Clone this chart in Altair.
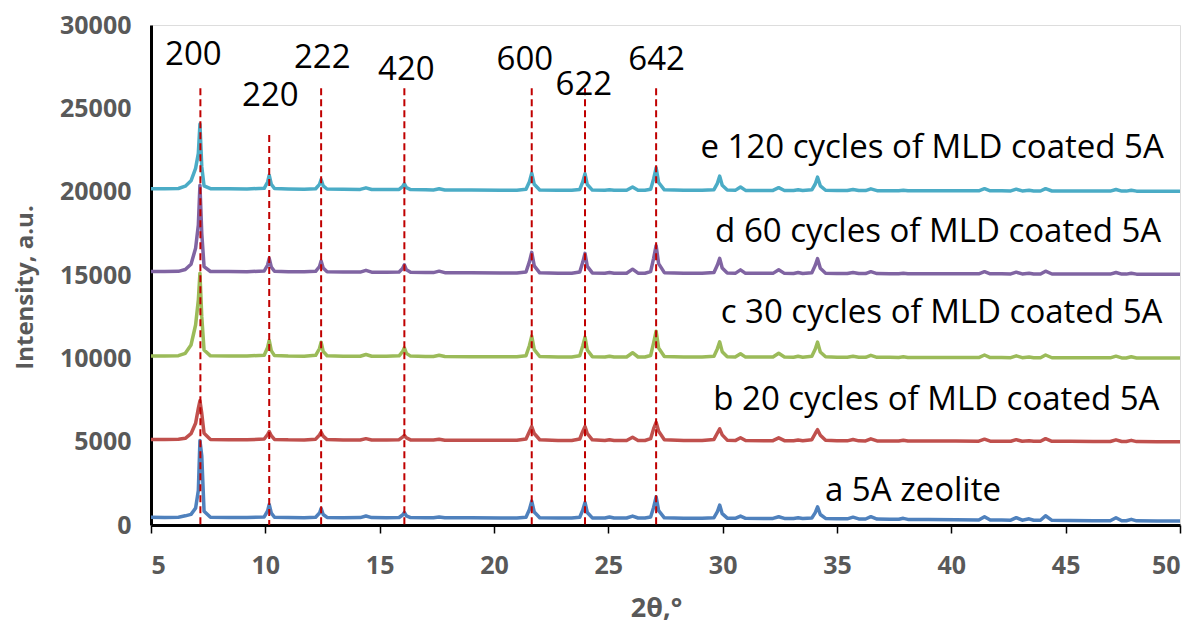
import altair as alt
import pandas as pd

# 2-theta grid (degrees)
two_theta = [
    5.0, 5.6, 6.2, 6.5, 6.75, 6.95, 7.07, 7.14, 7.22, 7.32, 7.6, 8.4, 9.2,
    9.95, 10.1, 10.17, 10.26, 10.4, 11.0, 11.7,
    12.2, 12.37, 12.44, 12.53, 12.7, 13.4,
    14.15, 14.4, 14.65, 15.3,
    15.85, 16.0, 16.08, 16.17, 16.35, 17.0,
    17.35, 17.6, 17.85, 19.0, 20.3, 21.0,
    21.4, 21.55, 21.65, 21.76, 22.0, 22.8, 23.4,
    23.75, 23.88, 23.98, 24.08, 24.3,
    24.85, 25.05, 25.25, 25.8, 26.06, 26.3, 26.6,
    26.85, 26.98, 27.09, 27.2, 27.45, 28.3, 29.1,
    29.62, 29.77, 29.87, 29.98, 30.2, 30.55, 30.78, 31.0, 31.8,
    32.2, 32.45, 32.7, 33.1, 33.3, 33.5,
    33.9, 34.05, 34.15, 34.27, 34.5, 35.0,
    35.45, 35.7, 35.95, 36.25, 36.48, 36.75, 37.3,
    37.7, 37.9, 38.1, 39.0, 40.2,
    41.2, 41.45, 41.7, 42.2, 42.6, 42.84, 43.1, 43.4, 43.6,
    43.9, 44.12, 44.4, 45.2, 46.2,
    46.95, 47.2, 47.45, 47.65, 47.87, 48.1, 49.0, 50.0,
]

series_a = [
    460, 455, 470, 550, 640, 1010, 2070, 5070, 4150, 830, 460, 450, 445,
    485, 840, 1233, 720, 460, 445, 440,
    465, 720, 994, 630, 455, 440,
    445, 540, 445, 440,
    450, 600, 755, 550, 445, 440,
    440, 480, 440, 430, 425, 425,
    470, 930, 1431, 780, 440, 420, 420,
    465, 890, 1354, 750, 425,
    420, 480, 420, 420, 537, 420, 415,
    480, 1050, 1688, 860, 430, 410, 405,
    440, 800, 1193, 680, 410, 400, 537, 400, 395,
    395, 497, 395, 390, 430, 390,
    420, 740, 1090, 630, 395, 380,
    370, 470, 365, 360, 500, 355, 345,
    340, 400, 335, 330, 315,
    300, 497, 300, 295, 290, 440, 290, 370, 285,
    285, 555, 280, 270, 260,
    255, 440, 255, 255, 340, 250, 240, 235,
]

series_b = [
    5130, 5125, 5140, 5200, 5480, 6100, 7000, 7455, 6700, 5500, 5130, 5115, 5110,
    5160, 5430, 5606, 5360, 5135, 5110, 5105,
    5150, 5400, 5565, 5330, 5125, 5100,
    5100, 5180, 5100, 5095,
    5120, 5270, 5368, 5230, 5105, 5095,
    5095, 5140, 5090, 5085, 5080, 5080,
    5160, 5615, 5905, 5490, 5115, 5075, 5075,
    5160, 5615, 5905, 5490, 5110,
    5075, 5120, 5075, 5075, 5268, 5075, 5070,
    5180, 5780, 6161, 5620, 5120, 5070, 5065,
    5135, 5520, 5767, 5410, 5090, 5065, 5231, 5065, 5060,
    5060, 5231, 5060, 5060, 5100, 5055,
    5120, 5490, 5720, 5390, 5080, 5050,
    5050, 5130, 5050, 5045, 5170, 5045, 5045,
    5040, 5080, 5040, 5040, 5035,
    5030, 5150, 5030, 5030, 5025, 5120, 5025, 5060, 5025,
    5025, 5180, 5020, 5020, 5015,
    5010, 5110, 5010, 5010, 5080, 5005, 5000, 5000,
]

series_c = [
    10140, 10140, 10160, 10300, 10800, 12000, 13500, 15109, 12500, 10500, 10150, 10140, 10135,
    10190, 10650, 11074, 10460, 10165, 10135, 10130,
    10180, 10590, 10970, 10420, 10155, 10125,
    10125, 10230, 10125, 10120,
    10150, 10400, 10636, 10300, 10135, 10115,
    10110, 10180, 10110, 10100, 10095, 10090,
    10160, 10770, 11332, 10520, 10110, 10085, 10085,
    10150, 10740, 11272, 10500, 10100,
    10080, 10130, 10080, 10080, 10336, 10080, 10080,
    10170, 10930, 11630, 10620, 10110, 10080, 10078,
    10130, 10580, 10990, 10400, 10100, 10075, 10276, 10075, 10075,
    10075, 10300, 10075, 10070, 10120, 10070,
    10120, 10560, 10970, 10380, 10095, 10065,
    10065, 10120, 10065, 10060, 10180, 10060, 10058,
    10055, 10090, 10055, 10052, 10050,
    10048, 10200, 10045, 10045, 10042, 10150, 10040, 10080, 10040,
    10038, 10200, 10035, 10032, 10030,
    10028, 10130, 10025, 10025, 10090, 10022, 10020, 10018,
]

series_d = [
    15215, 15210, 15220, 15330, 15650, 16600, 18000, 20380, 17500, 15500, 15210, 15205, 15200,
    15240, 15600, 16003, 15480, 15220, 15195, 15190,
    15220, 15510, 15845, 15420, 15200, 15180,
    15175, 15280, 15170, 15165,
    15180, 15390, 15607, 15310, 15165, 15150,
    15145, 15230, 15140, 15130, 15120, 15115,
    15180, 15800, 16360, 15550, 15130, 15110, 15110,
    15180, 15760, 16300, 15520, 15125,
    15110, 15150, 15110, 15108, 15350, 15108, 15105,
    15200, 16000, 16760, 15680, 15140, 15105, 15103,
    15150, 15600, 16000, 15420, 15120, 15100, 15310, 15100, 15100,
    15098, 15310, 15098, 15095, 15150, 15095,
    15140, 15580, 15980, 15400, 15110, 15090,
    15088, 15150, 15087, 15085, 15200, 15083, 15082,
    15080, 15110, 15078, 15076, 15074,
    15072, 15200, 15070, 15068, 15066, 15170, 15064, 15110, 15063,
    15062, 15230, 15060, 15058, 15056,
    15055, 15150, 15054, 15053, 15110, 15052, 15050, 15048,
]

series_e = [
    20180, 20175, 20190, 20330, 20650, 21400, 22300, 24055, 21500, 20350, 20180, 20170, 20165,
    20200, 20580, 20994, 20450, 20185, 20160, 20150,
    20175, 20440, 20735, 20350, 20160, 20140,
    20135, 20230, 20130, 20125,
    20135, 20300, 20476, 20240, 20125, 20110,
    20105, 20170, 20100, 20095, 20090, 20088,
    20140, 20600, 21115, 20440, 20100, 20085, 20085,
    20135, 20580, 21074, 20430, 20095,
    20084, 20110, 20084, 20083, 20280, 20083, 20082,
    20150, 20760, 21431, 20550, 20110, 20080, 20080,
    20120, 20500, 20934, 20380, 20095, 20078, 20280, 20076, 20075,
    20074, 20240, 20073, 20072, 20110, 20071,
    20110, 20460, 20870, 20350, 20085, 20068,
    20066, 20130, 20065, 20064, 20170, 20062, 20061,
    20060, 20090, 20058, 20056, 20054,
    20052, 20180, 20050, 20048, 20046, 20150, 20044, 20080, 20043,
    20042, 20180, 20040, 20038, 20036,
    20035, 20130, 20034, 20033, 20090, 20032, 20030, 20028,
]

series_names = [
    "e 120 cycles of MLD coated 5A",
    "d 60 cycles of MLD coated 5A",
    "c 30 cycles of MLD coated 5A",
    "b 20 cycles of MLD coated 5A",
    "a 5A zeolite",
]
series_values = [series_e, series_d, series_c, series_b, series_a]
series_colors = ["#4BACC6", "#8064A2", "#9BBB59", "#C0504D", "#4F81BD"]

# series annotation positions (right edge, data units)
ann_x = [49.29, 49.18, 49.23, 49.1, 42.17]
ann_y = [22635, 17565, 12722, 7515, 2028]

# reflection markers
hkl_labels = ["200", "220", "222", "420", "600", "622", "642"]
hkl_pos = [7.16, 10.17, 12.44, 16.08, 21.65, 23.98, 27.09]
hkl_line_top = [26200, 23400, 26200, 26200, 26200, 26200, 26200]
hkl_label_x = [6.85, 10.22, 12.49, 16.17, 21.35, 23.93, 27.11]
hkl_label_y = [28211, 25765, 28032, 27316, 27913, 26421, 27913]

x_ticks = [5, 10, 15, 20, 25, 30, 35, 40, 45, 50]
y_ticks = [0, 5000, 10000, 15000, 20000, 25000, 30000]

FONT = "Open Sans"
GRAY = "#595959"

x_scale = alt.Scale(domain=[5, 50], nice=False, zero=False)
y_scale = alt.Scale(domain=[0, 30000], nice=False)

x_axis = alt.Axis(
    values=x_ticks, title="2θ,°", grid=False, format="d",
    domainColor="black", domainWidth=3,
    tickColor="black", tickWidth=1.5, tickSize=8,
    labelFont=FONT, labelFontSize=25, labelFontWeight="bold", labelColor=GRAY,
    labelPadding=20,
    titleFont=FONT, titleFontSize=27, titleFontWeight="bold", titleColor=GRAY,
    titleX=505, titleY=83, titleBaseline="middle", titleAlign="center",
)
y_axis = alt.Axis(
    values=y_ticks, title="Intensity, a.u.", grid=False, format="d",
    domainColor="black", domainWidth=3, ticks=False,
    labelFont=FONT, labelFontSize=25, labelFontWeight="bold", labelColor=GRAY,
    labelPadding=20,
    titleFont=FONT, titleFontSize=24, titleFontWeight="bold", titleColor=GRAY,
    titleX=-126, titleY=262, titleAngle=-90, titleBaseline="middle", titleAlign="center",
)

layers = []
for name, vals, col in zip(series_names, series_values, series_colors):
    df = pd.DataFrame({"x": two_theta, "y": vals, "series": name})
    layers.append(
        alt.Chart(df).mark_line(color=col, strokeWidth=3.5, strokeJoin="round").encode(
            x=alt.X("x:Q", scale=x_scale, axis=x_axis),
            y=alt.Y("y:Q", scale=y_scale, axis=y_axis),
            order=alt.Order("x:Q"),
        )
    )

rule_df = pd.DataFrame({"x": hkl_pos, "top": hkl_line_top})
rules = alt.Chart(rule_df).mark_rule(color="#C00000", strokeWidth=2, strokeDash=[7, 4]).encode(
    x=alt.X("x:Q", scale=x_scale),
    y=alt.Y("top:Q", scale=y_scale),
    y2=alt.datum(0),
)

hkl_df = pd.DataFrame({"x": hkl_label_x, "y": hkl_label_y, "t": hkl_labels})
hkl_text = alt.Chart(hkl_df).mark_text(
    font=FONT, fontSize=33, align="center", baseline="middle", color="black"
).encode(x=alt.X("x:Q", scale=x_scale), y=alt.Y("y:Q", scale=y_scale), text="t:N")

ann_df = pd.DataFrame({"x": ann_x, "y": ann_y, "t": series_names})
ann_text = alt.Chart(ann_df).mark_text(
    font=FONT, fontSize=33, align="right", baseline="middle", color="black"
).encode(x=alt.X("x:Q", scale=x_scale), y=alt.Y("y:Q", scale=y_scale), text="t:N")

chart = alt.layer(*layers, rules, hkl_text, ann_text).properties(
    width=1029, height=500,
    autosize=alt.AutoSizeParams(type="none"),
    padding={"left": 143, "top": 17, "right": 10, "bottom": 100},
).configure_view(stroke="black", strokeWidth=3).configure(background="white")

chart.save("out.html", embed_options={"renderer": "svg", "actions": False})
